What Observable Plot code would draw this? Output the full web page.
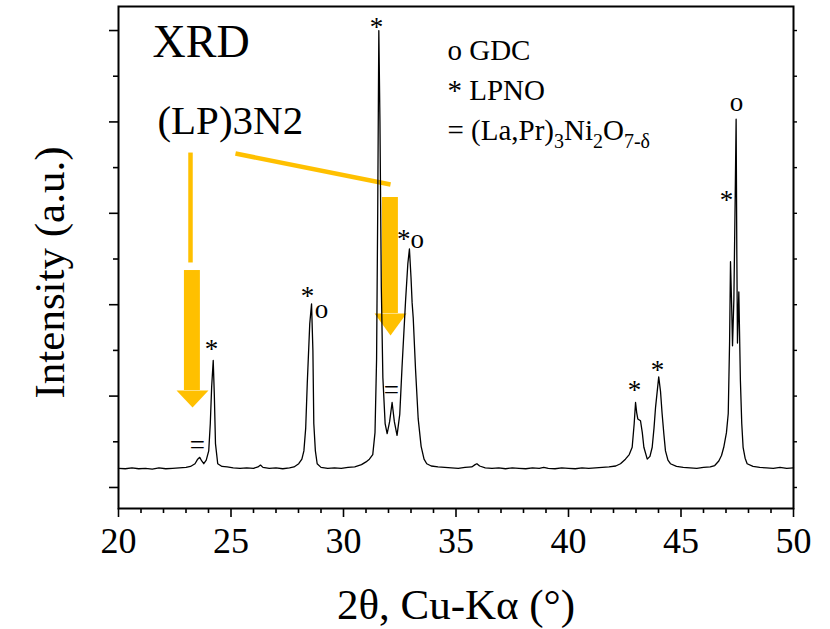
<!DOCTYPE html>
<html>
<head>
<meta charset="utf-8">
<script src="https://cdn.jsdelivr.net/npm/d3@7"></script>
<script src="https://cdn.jsdelivr.net/npm/@observablehq/plot@0.6"></script>
<style>
  html, body { margin: 0; padding: 0; background: #fff; }
  svg { display: block; }
</style>
</head>
<body>
<div id="chart"></div>
<script>
// ---- XRD pattern (2θ in degrees, intensity in arbitrary units) ----
const twoTheta = [
  20.0, 20.3, 20.6, 20.9, 21.2, 21.5, 21.8, 22.1, 22.4, 22.7, 23.0, 23.2, 23.4, 23.52, 23.61, 23.7, 23.79, 23.9,
  24.01, 24.08, 24.14, 24.21, 24.26, 24.31, 24.41, 24.6, 24.83, 25.1, 25.4, 25.7, 26.0, 26.2, 26.31, 26.42, 26.7,
  27.0, 27.3, 27.6, 27.8, 28.01, 28.15, 28.24, 28.32, 28.39, 28.5, 28.58, 28.64, 28.68, 28.75, 28.83, 29.0, 29.3,
  29.6, 29.9, 30.2, 30.5, 30.8, 31.0, 31.15, 31.3, 31.4, 31.47, 31.52, 31.57, 31.62, 31.68, 31.75, 31.85, 31.94,
  32.05, 32.16, 32.26, 32.38, 32.5, 32.6, 32.76, 32.86, 32.93, 33.0, 33.05, 33.1, 33.2, 33.32, 33.45, 33.58, 33.7,
  33.9, 34.2, 34.5, 34.8, 35.1, 35.4, 35.7, 35.85, 35.93, 36.05, 36.3, 36.6, 36.9, 37.2, 37.5, 37.8, 38.1, 38.4,
  38.7, 38.9, 39.1, 39.4, 39.7, 40.0, 40.3, 40.6, 40.9, 41.2, 41.5, 41.8, 42.1, 42.31, 42.53, 42.7, 42.83, 42.92,
  42.98, 43.03, 43.08, 43.2, 43.28, 43.35, 43.5, 43.62, 43.72, 43.8, 43.87, 44.01, 44.09, 44.16, 44.24, 44.31,
  44.42, 44.53, 44.8, 45.1, 45.4, 45.7, 46.0, 46.3, 46.5, 46.68, 46.8, 46.9, 47.02, 47.1, 47.16, 47.2, 47.25,
  47.29, 47.35, 47.41, 47.45, 47.48, 47.51, 47.57, 47.64, 47.7, 47.76, 47.85, 47.94, 48.2, 48.5, 48.8, 49.1,
  49.4, 49.7, 50.0
];
const intensity = [
  0.21, 0.205, 0.215, 0.205, 0.21, 0.2, 0.215, 0.205, 0.21, 0.215, 0.22, 0.23, 0.26, 0.31, 0.33, 0.29, 0.26, 0.30,
  0.40, 0.70, 1.10, 1.39, 1.00, 0.48, 0.26, 0.23, 0.225, 0.215, 0.21, 0.215, 0.21, 0.225, 0.245, 0.22, 0.21,
  0.215, 0.205, 0.215, 0.225, 0.26, 0.31, 0.40, 0.65, 1.14, 1.79, 2.01, 1.50, 0.70, 0.40, 0.26, 0.22, 0.21,
  0.215, 0.21, 0.22, 0.225, 0.25, 0.28, 0.31, 0.36, 0.60, 1.40, 3.00, 5.00, 4.00, 2.20, 1.20, 0.70, 0.59,
  0.72, 0.93, 0.72, 0.57, 0.80, 1.31, 2.05, 2.45, 2.61, 2.30, 2.02, 1.85, 1.30, 0.75, 0.45, 0.31, 0.26,
  0.235, 0.225, 0.22, 0.215, 0.21, 0.22, 0.225, 0.25, 0.26, 0.235, 0.215, 0.21, 0.215, 0.205, 0.215, 0.21, 0.205, 0.215,
  0.21, 0.22, 0.21, 0.205, 0.215, 0.21, 0.205, 0.215, 0.21, 0.215, 0.22, 0.225, 0.235, 0.26, 0.31, 0.36, 0.44, 0.70,
  0.93, 0.82, 0.75, 0.73, 0.60, 0.44, 0.31, 0.34, 0.44, 0.65, 0.88, 1.21, 1.05, 0.81, 0.58, 0.40,
  0.30, 0.26, 0.23, 0.22, 0.215, 0.21, 0.22, 0.225, 0.24, 0.29, 0.35, 0.44, 0.60, 0.81, 1.60, 2.47, 2.00,
  1.55, 2.06, 3.20, 4.03, 2.60, 1.58, 2.14, 1.17, 0.70, 0.44, 0.32, 0.26, 0.23, 0.22, 0.215, 0.21,
  0.22, 0.21, 0.215
];

// ---- axis ticks ----
const xMajorTicks = [20, 25, 30, 35, 40, 45, 50];
const xMinorTicks = [21, 22, 23, 24, 26, 27, 28, 29, 31, 32, 33, 34, 36, 37, 38, 39, 41, 42, 43, 44, 46, 47, 48, 49];
const yMajorTicks = [0, 1, 2, 3, 4, 5];
const yMinorTicks = [0.5, 1.5, 2.5, 3.5, 4.5];

// ---- axis titles ----
const xTitle = "2θ, Cu-Kα (°)";
const yTitle = "Intensity (a.u.)";

// ---- peak markers ----
const markText = ["*", "=", "*", "o", "*", "*o", "=", "*", "*", "*", "o"];
const markX    = [24.13, 23.51, 28.40, 29.02, 31.47, 32.98, 32.13, 42.93, 43.96, 47.02, 47.47];
const markY    = [1.51, 0.46, 2.09, 1.95, 5.04, 2.72, 1.06, 1.06, 1.28, 3.14, 4.21];

// ---- legend / titles inside the plot ----
const legendLabels = ["o GDC", "* LPNO", "= (La,Pr)3Ni2O7-δ"];
const legendX = [34.62, 34.62, 34.62];
const legendY = [4.78, 4.34, 3.906];
const headText = ["XRD", "(LP)3N2"];
const headX = [21.51, 21.73];
const headY = [4.869, 4.015];
const headSize = [46, 41];

// ---- orange pointers (leader lines and block arrows) ----
const leaderX1 = [23.2, 25.2];
const leaderY1 = [3.665, 3.654];
const leaderX2 = [23.2, 32.09];
const leaderY2 = [2.462, 3.315];
const arrowBodyX1 = [22.93, 31.73];
const arrowBodyX2 = [23.64, 32.44];
const arrowBodyTop = [2.374, 3.173];
const arrowHeadLeft = [22.58, 31.38];
const arrowHeadRight = [24.0, 32.8];
const arrowHeadTop = [1.061, 1.904];
const arrowTipX = [23.29, 32.09];
const arrowTipY = [0.875, 1.663];

// ---- build tables ----
const pattern = twoTheta.map((x, i) => ({x, y: intensity[i]}));
const marks = markText.map((t, i) => ({t, x: markX[i], y: markY[i]}));
const legend = legendLabels.map((t, i) => ({t, x: legendX[i], y: legendY[i]}));
const heads = headText.map((t, i) => ({t, x: headX[i], y: headY[i], s: headSize[i]}));
const leaders = leaderX1.map((x1, i) => ({x1, y1: leaderY1[i], x2: leaderX2[i], y2: leaderY2[i]}));
const bodies = arrowBodyX1.map((x1, i) => ({x1, x2: arrowBodyX2[i], y1: arrowHeadTop[i], y2: arrowBodyTop[i]}));
const heads3 = [];
arrowHeadLeft.forEach((xl, i) => {
  heads3.push({k: i, x: xl, y: arrowHeadTop[i]});
  heads3.push({k: i, x: arrowHeadRight[i], y: arrowHeadTop[i]});
  heads3.push({k: i, x: arrowTipX[i], y: arrowTipY[i]});
});

const ORANGE = "#FFC000";
const FONT = "Liberation Serif";

const svg = Plot.plot({
  width: 830,
  height: 629,
  marginLeft: 118,
  marginRight: 37,
  marginTop: 6,
  marginBottom: 121,
  style: {fontFamily: FONT, fontSize: "24px", color: "black", background: "white"},
  x: {domain: [20, 50]},
  y: {domain: [-0.23, 5.263]},
  marks: [
    Plot.axisX({ticks: xMajorTicks, tickSize: 9, tickPadding: 10, fontSize: 36, fontFamily: FONT, label: null, strokeWidth: 1.6}),
    Plot.axisX({ticks: xMinorTicks, tickSize: 5, tickFormat: () => "", label: null, strokeWidth: 1.6}),
    Plot.axisY({ticks: yMajorTicks, tickSize: 9, tickFormat: () => "", label: null, strokeWidth: 1.6}),
    Plot.axisY({ticks: yMinorTicks, tickSize: 5, tickFormat: () => "", label: null, strokeWidth: 1.6}),
    Plot.axisY({anchor: "right", ticks: yMajorTicks.concat(yMinorTicks), tickSize: 3, tickFormat: () => "", label: null, strokeWidth: 1.4}),
    Plot.link(leaders, {x1: "x1", y1: "y1", x2: "x2", y2: "y2", stroke: ORANGE, strokeWidth: 4.5, strokeLinecap: "butt"}),
    Plot.rect(bodies, {x1: "x1", x2: "x2", y1: "y1", y2: "y2", fill: ORANGE}),
    Plot.line(heads3, {x: "x", y: "y", z: "k", fill: ORANGE, stroke: "none", curve: "linear-closed"}),
    Plot.line(pattern, {x: "x", y: "y", stroke: "black", strokeWidth: 1.3}),
    Plot.text(marks, {x: "x", y: "y", text: "t", fontSize: 27, fontFamily: FONT, fill: "black"}),
    Plot.text(legend, {x: "x", y: "y", text: "t", fontSize: 29, fontFamily: FONT, textAnchor: "start", fill: "black"}),
    Plot.text(heads, {x: "x", y: "y", text: "t", fontSize: "s", fontFamily: FONT, textAnchor: "start", fill: "black"}),
    Plot.text([yTitle], {text: d => d, frameAnchor: "left", rotate: -90, dx: -68, dy: 15, fontSize: 43, fontFamily: FONT, textAnchor: "middle", lineAnchor: "middle", fill: "black"}),
    Plot.text([xTitle], {text: d => d, frameAnchor: "bottom", dy: 97, fontSize: 43, fontFamily: FONT, textAnchor: "middle", lineAnchor: "middle", fill: "black"}),
    Plot.frame({stroke: "black", strokeWidth: 2})
  ]
});

// subscripts in the third legend entry
d3.select(svg).selectAll("text").filter(function () {
  return this.textContent === legendLabels[2] && this.childElementCount === 0;
}).each(function () {
  const t = d3.select(this);
  t.text(null);
  const parts = [["= (La,Pr)", 0], ["3", 1], ["Ni", 0], ["2", 1], ["O", 0], ["7-δ", 1]];
  let cur = 0;
  for (const [s, sub] of parts) {
    const dy = sub === cur ? 0 : (sub ? 8 : -8);
    const sp = t.append("tspan").text(s);
    if (dy) sp.attr("dy", dy);
    if (sub) sp.attr("font-size", "20px");
    cur = sub;
  }
});

document.getElementById("chart").appendChild(svg);
</script>
</body>
</html>
